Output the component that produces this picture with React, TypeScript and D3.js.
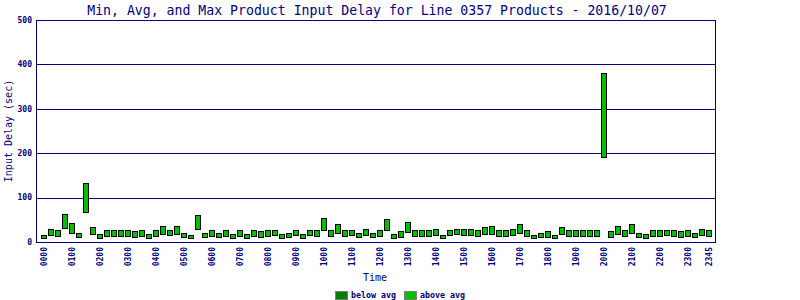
import React from "react";
import * as d3 from "d3";

const title = "Min, Avg, and Max Product Input Delay for Line 0357 Products - 2016/10/07";
const yTicks = [0, 100, 200, 300, 400, 500];
const xTickSlots = [0, 4, 8, 12, 16, 20, 24, 28, 32, 36, 40, 44, 48, 52, 56, 60, 64, 68, 72, 76, 80, 84, 88, 92, 95];
const xTickLabels = ["0000", "0100", "0200", "0300", "0400", "0500", "0600", "0700", "0800", "0900", "1000", "1100", "1200", "1300", "1400", "1500", "1600", "1700", "1800", "1900", "2000", "2100", "2200", "2300", "2345"];

const minDelay = [
  9, 15, 13, 31, 20, 11, 68, 18, 9, 13, 13, 13, 13, 11, 13, 9,
  13, 18, 15, 19, 11, 9, 29, 11, 13, 11, 13, 9, 13, 9, 13, 11,
  13, 15, 9, 11, 15, 9, 15, 13, 26, 13, 20, 13, 15, 11, 15, 11,
  13, 26, 9, 11, 22, 13, 13, 13, 15, 9, 15, 17, 15, 15, 13, 18,
  18, 13, 13, 15, 20, 13, 9, 11, 11, 9, 18, 13, 13, 13, 13, 13,
  191, 11, 18, 13, 20, 11, 9, 13, 13, 15, 13, 11, 13, 11, 15, 13,
];
const maxDelay = [
  15, 30, 26, 62, 42, 21, 133, 33, 17, 26, 26, 26, 26, 24, 26, 19,
  26, 35, 28, 35, 21, 15, 60, 21, 26, 21, 26, 17, 26, 19, 26, 24,
  26, 28, 19, 21, 28, 19, 28, 26, 55, 26, 40, 26, 28, 21, 30, 21,
  26, 51, 19, 24, 44, 26, 26, 26, 30, 15, 28, 30, 30, 30, 26, 33,
  35, 26, 26, 30, 40, 26, 15, 21, 24, 15, 33, 26, 26, 26, 26, 26,
  381, 24, 35, 26, 40, 21, 17, 26, 26, 28, 26, 24, 26, 21, 30, 26,
];
const legendLabels = ["below avg", "above avg"];
const legendColors = ["#008000", "#00c000"];

const NAVY = "#000080";
const MONO = "'DejaVu Sans Mono', monospace";

export default function App() {
  const W = 800, H = 300;
  const plotL = 36, plotR = 715, plotT = 20, plotB = 242;
  const x = d3.scaleLinear().domain([0, 95]).range([44, 709]);
  const y = d3.scaleLinear().domain([0, 500]).range([plotB, plotT]);
  const px = (v: number) => Math.round(v) + 0.5;

  return (
    <svg width={W} height={H} style={{ position: "absolute", left: 0, top: 0, background: "#fff" }}>
      <rect x={0} y={0} width={W} height={H} fill="#fff" />
      <text x={377} y={15} textAnchor="middle" fontFamily={MONO} fontSize={13.2} fill={NAVY}>{title}</text>

      {yTicks.map((t) => (
        <g key={t}>
          {t > 0 && (
            <line x1={plotL} x2={plotR} y1={px(y(t))} y2={px(y(t))} stroke={NAVY} strokeWidth={1} />
          )}
          <text x={32} y={y(t)} dy="0.35em" textAnchor="end" fontFamily={MONO} fontWeight="bold" fontSize={8} fill={NAVY}>{t}</text>
        </g>
      ))}
      <rect x={plotL + 0.5} y={plotT + 0.5} width={plotR - plotL} height={plotB - plotT} fill="none" stroke={NAVY} strokeWidth={1} />

      {minDelay.map((mn, i) => {
        const cx = Math.round(x(i));
        const top = px(y(maxDelay[i]));
        const bot = px(y(mn));
        return (
          <rect key={i} x={cx - 2.5} y={top} width={5} height={Math.max(1, bot - top)} fill={legendColors[1]} stroke="#000" strokeWidth={1} />
        );
      })}

      {xTickSlots.map((s, k) => (
        <text key={s} transform={`translate(${Math.round(x(s)) + 0.5},247) rotate(-90)`} textAnchor="end" dy="0.35em" fontFamily={MONO} fontWeight="bold" fontSize={8} fill={NAVY}>{xTickLabels[k]}</text>
      ))}

      <text transform={`translate(8,${(plotT + plotB) / 2}) rotate(-90)`} textAnchor="middle" dy="0.35em" fontFamily={MONO} fontSize={10} fill={NAVY}>Input Delay (sec)</text>
      <text x={375} y={281} textAnchor="middle" fontFamily={MONO} fontSize={10} fill={NAVY}>Time</text>

      {legendLabels.map((lab, k) => {
        const bx = k === 0 ? 335 : 404;
        return (
          <g key={lab}>
            <rect x={bx + 0.5} y={291.5} width={12} height={8} fill={legendColors[k]} stroke="#808080" strokeWidth={1} />
            <text x={bx + 16} y={298} fontFamily={MONO} fontWeight="bold" fontSize={8.3} fill={NAVY}>{lab}</text>
          </g>
        );
      })}
    </svg>
  );
}
